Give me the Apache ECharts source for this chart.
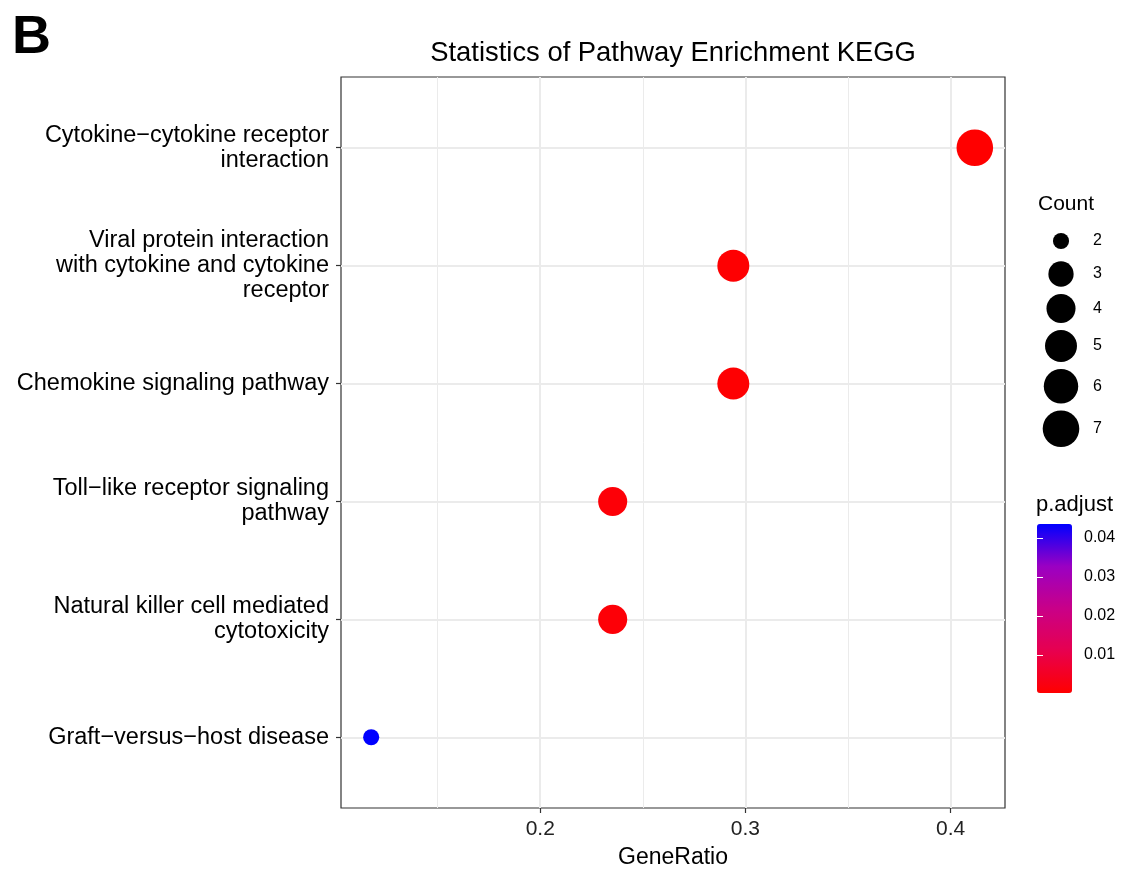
<!DOCTYPE html>
<html>
<head>
<meta charset="utf-8">
<script src="https://cdn.jsdelivr.net/npm/echarts@6/dist/echarts.min.js"></script>
<style>html,body{margin:0;padding:0;background:#fff;}#c{width:1121px;height:869px;}</style>
</head>
<body>
<div id="c"></div>
<script>
// ---- data (bottom → top) ----
const categories = [
  "Graft\u2212versus\u2212host disease",
  "Natural killer cell mediated\ncytotoxicity",
  "Toll\u2212like receptor signaling\npathway",
  "Chemokine signaling pathway",
  "Viral protein interaction\nwith cytokine and cytokine\nreceptor",
  "Cytokine\u2212cytokine receptor\ninteraction"
];
const geneRatio = [0.1176, 0.2353, 0.2353, 0.2941, 0.2941, 0.4118];
const counts = [2, 4, 4, 5, 5, 7];
const pAdjust = [0.0436, 0.0012, 0.0012, 0.0006, 0.0006, 0.00026];
const xTicks = [0.2, 0.3, 0.4];
const xMinorTicks = [0.15, 0.25, 0.35];
const countKeys = [2, 3, 4, 5, 6, 7];
const pTicks = [0.01, 0.02, 0.03, 0.04];

// ---- scales ----
const FONT = '"Liberation Sans", Arial, sans-serif';
const cMin = Math.min(...countKeys), cMax = Math.max(...countKeys);
function sizeOf(c) { return 12 + 4.1 * (1 + 5 * Math.sqrt((c - cMin) / (cMax - cMin))); }
const xLo = Math.min(...geneRatio), xHi = Math.max(...geneRatio);
const xPad = (xHi - xLo) * 0.05;
const pMin = Math.min(...pAdjust), pMax = Math.max(...pAdjust);

// legend key positions (cumulative key heights)
const keyH = countKeys.map(c => Math.max(sizeOf(c) + 7, 33));
const keyPos = [];
let acc = 0;
keyH.forEach((h, i) => { keyPos.push(acc + h / 2); acc += h; });
const keyTotal = acc;

const mainData = categories.map((_, i) => [geneRatio[i], i + 1, counts[i], pAdjust[i]]);
const legendData = countKeys.map((c, i) => ({
  value: [0, keyPos[i], c],
  label: { distance: 32 - sizeOf(c) / 2 }
}));

const gridColor = '#EBEBEB';
const markData = [
  ...xMinorTicks.map(v => ({ xAxis: v, lineStyle: { width: 1, color: gridColor, type: 'solid' } })),
  ...xTicks.map(v => ({ xAxis: v, lineStyle: { width: 2, color: gridColor, type: 'solid' } })),
  ...categories.map((_, i) => ({ yAxis: i + 1, lineStyle: { width: 2, color: gridColor, type: 'solid' } }))
];

const chart = echarts.init(document.getElementById('c'), null, { renderer: 'canvas' });
chart.setOption({
  animation: false,
  backgroundColor: '#fff',
  textStyle: { fontFamily: FONT },
  title: [
    { text: 'B', left: 12, top: 11, padding: 0, textStyle: { fontSize: 54, fontWeight: 'bold', color: '#000', fontFamily: FONT } },
    { text: 'Statistics of Pathway Enrichment KEGG', left: 673, top: 40, padding: 0, textAlign: 'center',
      textStyle: { fontSize: 27.4, fontWeight: 'normal', color: '#000', fontFamily: FONT } },
    { text: 'Count', left: 1038, top: 194, padding: 0, textStyle: { fontSize: 21, fontWeight: 'normal', color: '#000', fontFamily: FONT } },
    { text: 'p.adjust', left: 1036, top: 494, padding: 0, textStyle: { fontSize: 22, fontWeight: 'normal', color: '#000', fontFamily: FONT } }
  ],
  grid: [
    { left: 341, top: 77, width: 664, height: 731, show: true, borderColor: '#333', borderWidth: 1.2,
      backgroundColor: 'transparent', containLabel: false, outerBoundsMode: 'none' },
    { left: 1041, top: 241 - keyPos[0], width: 40, height: keyTotal, containLabel: false, outerBoundsMode: 'none' },
    { left: 1037, top: 524, width: 35, height: 169, containLabel: false, outerBoundsMode: 'none' }
  ],
  xAxis: [
    { type: 'value', gridIndex: 0, min: xLo - xPad, max: xHi + xPad,
      axisLine: { show: false },
      axisTick: { show: true, customValues: xTicks, length: 5, lineStyle: { color: '#333', width: 1.2 } },
      axisLabel: { customValues: xTicks, margin: 11, fontSize: 21, color: '#222', fontFamily: FONT },
      splitLine: { show: false },
      name: 'GeneRatio', nameLocation: 'middle', nameGap: 38,
      nameTextStyle: { fontSize: 23, color: '#000', fontFamily: FONT } },
    { type: 'value', gridIndex: 1, min: -1, max: 1, show: false },
    { type: 'value', gridIndex: 2, min: 0, max: 1, show: false }
  ],
  yAxis: [
    { type: 'value', gridIndex: 0, min: 0.4, max: 6.6,
      axisLine: { show: false },
      axisTick: { show: true, customValues: [1, 2, 3, 4, 5, 6], length: 5, lineStyle: { color: '#333', width: 1.2 } },
      axisLabel: { customValues: [1, 2, 3, 4, 5, 6], margin: 12, fontSize: 23.5, lineHeight: 25, color: '#000', fontFamily: FONT,
        padding: [3, 0, 0, 0], formatter: v => categories[Math.round(v) - 1] },
      splitLine: { show: false } },
    { type: 'value', gridIndex: 1, min: 0, max: keyTotal, inverse: true, show: false },
    { type: 'value', gridIndex: 2, min: pMin, max: pMax, position: 'right', z: 10,
      axisLine: { show: false },
      axisTick: { show: true, inside: true, customValues: pTicks, length: 6, lineStyle: { color: '#fff', width: 1 } },
      axisLabel: { customValues: pTicks, margin: 12, fontSize: 16, color: '#000', fontFamily: FONT, formatter: v => String(v) },
      splitLine: { show: false } },
    { type: 'value', gridIndex: 2, min: pMin, max: pMax, position: 'left', z: 10,
      axisLine: { show: false },
      axisTick: { show: true, inside: true, customValues: pTicks, length: 6, lineStyle: { color: '#fff', width: 1 } },
      axisLabel: { show: false },
      splitLine: { show: false } }
  ],
  visualMap: [{
    type: 'continuous', seriesIndex: 0, dimension: 3, min: pMin, max: pMax,
    inRange: { color: ['#FF0000', '#E7004F', '#C90088', '#9A00C3', '#0000FF'] },
    left: 1037, top: 524, itemWidth: 35, itemHeight: 169, padding: 0, z: 2,
    calculable: false, hoverLink: false, text: null, orient: 'vertical'
  }],
  series: [
    { type: 'scatter', name: 'main', xAxisIndex: 0, yAxisIndex: 0, z: 5, data: mainData,
      symbolSize: v => sizeOf(v[2]), itemStyle: { opacity: 1 }, silent: true },
    { type: 'scatter', name: 'grid', xAxisIndex: 0, yAxisIndex: 0, z: 1, data: [], silent: true,
      markLine: { silent: true, symbol: ['none', 'none'], label: { show: false }, animation: false,
        emphasis: { disabled: true }, data: markData } },
    { type: 'scatter', name: 'countLegend', xAxisIndex: 1, yAxisIndex: 1, data: legendData, silent: true,
      symbolSize: v => sizeOf(v[2]), itemStyle: { color: '#000', opacity: 1 },
      label: { show: true, position: 'right', formatter: p => String(p.value[2]), fontSize: 16, color: '#000', opacity: 1, fontFamily: FONT } }
  ]
});
</script>
</body>
</html>
